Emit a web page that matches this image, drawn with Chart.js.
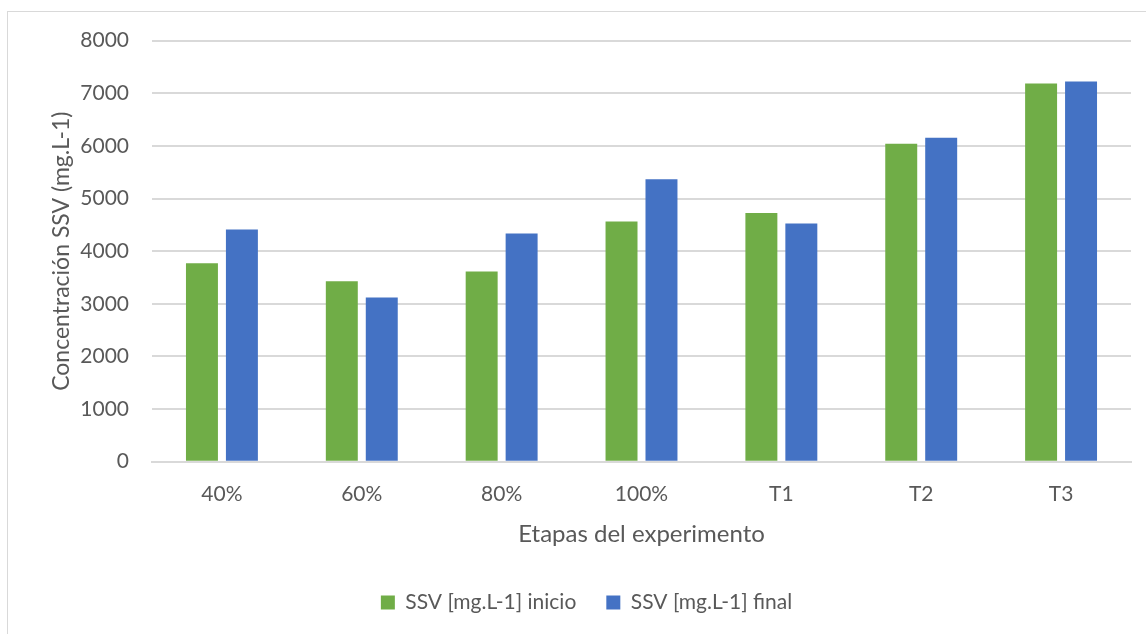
<!DOCTYPE html>
<html>
<head>
<meta charset="utf-8">
<script src="https://cdn.jsdelivr.net/npm/chart.js@4"></script>
<style>
  html, body { margin: 0; padding: 0; background: #ffffff; }
  #wrap { position: relative; width: 1146px; height: 634px; }
</style>
</head>
<body>
<div id="wrap"><canvas id="chart" width="1146" height="634"></canvas></div>
<script>
// Etapas del experimento y concentración de SSV al inicio y al final
const etapas = ['40%', '60%', '80%', '100%', 'T1', 'T2', 'T3'];
const ssvInicio = [3771, 3429, 3613, 4566, 4724, 6043, 7185];
const ssvFinal = [4413, 3118, 4337, 5366, 4528, 6156, 7223];
const yTicks = [0, 1000, 2000, 3000, 4000, 5000, 6000, 7000, 8000];

const TEXT = '#595959';
const GRID = '#D9D9D9';
const FONT = 'Lato, Carlito, "Liberation Sans", sans-serif';

// thin frame around the chart object
const frame = {
  id: 'frame',
  beforeDraw(chart) {
    const ctx = chart.ctx;
    ctx.save();
    ctx.fillStyle = '#ffffff';
    ctx.fillRect(0, 0, chart.width, chart.height);
    ctx.strokeStyle = GRID;
    ctx.lineWidth = 1;
    ctx.strokeRect(7.5, 11.5, chart.width + 20, chart.height + 20);
    ctx.restore();
  }
};

new Chart(document.getElementById('chart'), {
  type: 'bar',
  data: {
    labels: etapas,
    datasets: [
      { label: 'SSV [mg.L-1] inicio', data: ssvInicio, backgroundColor: '#70AD47', borderWidth: 0 },
      { label: 'SSV [mg.L-1] final', data: ssvFinal, backgroundColor: '#4472C4', borderWidth: 0 }
    ]
  },
  options: {
    responsive: false,
    animation: false,
    devicePixelRatio: 1,
    categoryPercentage: 0.5714,
    barPercentage: 0.8,
    layout: { padding: { left: 27, right: 0, top: 40.7, bottom: 11 } },
    plugins: {
      tooltip: { enabled: false },
      legend: {
        position: 'bottom',
        labels: {
          color: TEXT,
          font: { family: FONT, size: 21 },
          boxWidth: 14,
          boxHeight: 14,
          padding: 30
        }
      }
    },
    scales: {
      x: {
        grid: { display: false, drawTicks: false },
        border: { display: true, color: GRID, width: 2 },
        ticks: { color: TEXT, font: { family: FONT, size: 21 }, padding: 20 },
        title: {
          display: true,
          text: 'Etapas del experimento',
          color: TEXT,
          font: { family: FONT, size: 24 },
          padding: { top: 0, bottom: 13.6 }
        },
        afterFit(s) { s.height = 100.3; }
      },
      y: {
        min: 0,
        max: 8000,
        afterBuildTicks(s) { s.ticks = yTicks.map(v => ({ value: v })); },
        grid: { color: GRID, lineWidth: 2, drawTicks: false },
        border: { display: false },
        ticks: {
          color: TEXT,
          font: { family: FONT, size: 21 },
          padding: 23,
          callback: v => String(v)
        },
        title: {
          display: true,
          text: 'Concentración SSV (mg.L-1)',
          color: TEXT,
          font: { family: FONT, size: 23 },
          padding: { top: 21.2, bottom: 0 }
        },
        afterFit(s) { s.width = 125; }
      },
      yRight: {
        position: 'right',
        display: true,
        grid: { display: false, drawTicks: false },
        border: { display: false },
        ticks: { display: false },
        afterFit(s) { s.width = 15; }
      }
    }
  },
  plugins: [frame]
});
</script>
</body>
</html>
